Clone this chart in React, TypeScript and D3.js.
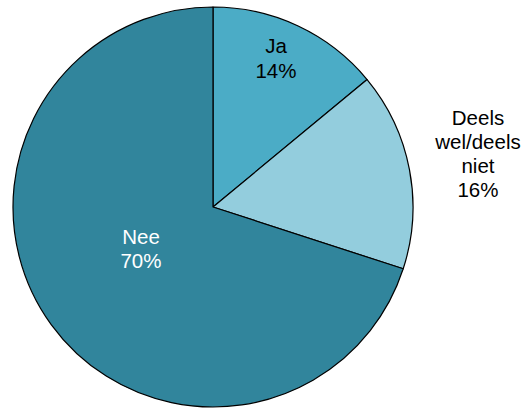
import React from "react";
import * as d3 from "d3";

const categories = ["Ja", "Deels wel/deels niet", "Nee"];
const values = [14, 16, 70];
const colors = ["#4BACC6", "#93CDDD", "#31859C"];

export default function App() {
  const width = 527, height = 410;
  const cx = 213, cy = 207, r = 200;
  const pie = d3.pie<number>().sort(null).value((d) => d);
  const arcs = pie(values);
  const arc = d3.arc<d3.PieArcDatum<number>>().innerRadius(0).outerRadius(r);
  const fs = 20.5;
  return (
    <svg width={width} height={height} style={{ position: "absolute", left: 0, top: 0 }}
      fontFamily="Liberation Sans, Arial, sans-serif">
      <g transform={`translate(${cx},${cy})`}>
        {arcs.map((a, i) => (
          <path key={i} d={arc(a) || ""} fill={colors[i]} stroke="#000" strokeWidth={1.2} strokeLinejoin="round" />
        ))}
      </g>
      <text x={276} y={53} fontSize={fs} textAnchor="middle" fill="#000">{categories[0]}</text>
      <text x={276} y={78} fontSize={fs} textAnchor="middle" fill="#000">{values[0]}%</text>
      <text textAnchor="middle" fontSize={fs} fill="#000">
        <tspan x={478} y={125}>Deels</tspan>
        <tspan x={478} y={149}>wel/deels</tspan>
        <tspan x={478} y={173}>niet</tspan>
        <tspan x={478} y={197}>{values[1]}%</tspan>
      </text>
      <text x={141} y={244} fontSize={fs} textAnchor="middle" fill="#fff">{categories[2]}</text>
      <text x={141} y={268} fontSize={fs} textAnchor="middle" fill="#fff">{values[2]}%</text>
    </svg>
  );
}
